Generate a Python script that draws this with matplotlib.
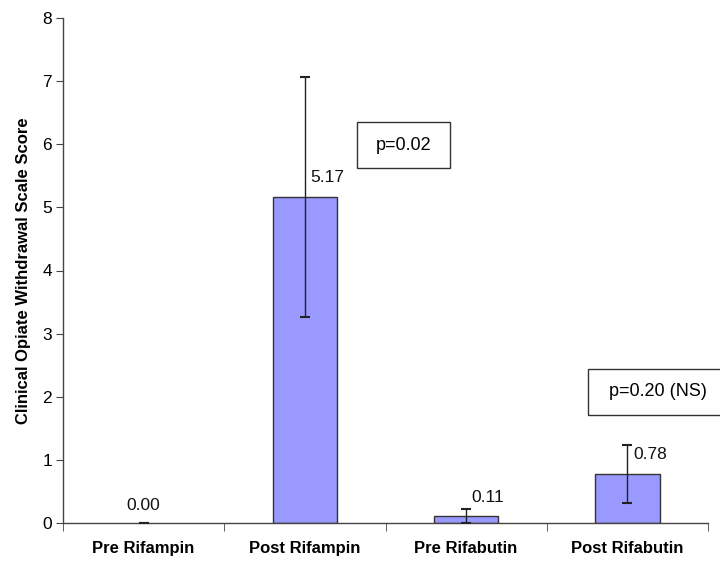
import matplotlib
matplotlib.use('Agg')
import matplotlib.pyplot as plt
from matplotlib.patches import Rectangle
import numpy as np

plt.rcParams['font.family'] = ['Liberation Sans', 'DejaVu Sans']

groups = ['Pre Rifampin', 'Post Rifampin', 'Pre Rifabutin', 'Post Rifabutin']
scores = [0.00, 5.17, 0.11, 0.78]
errs = [0.00, 1.90, 0.11, 0.46]
score_labels = ['0.00', '5.17', '0.11', '0.78']
pvals = ['p=0.02', 'p=0.20 (NS)']

fig = plt.figure(figsize=(7.2, 5.64), dpi=100)
ax = fig.add_axes([63/720., 1 - 523/564., 645/720., 505/564.])

x = np.arange(len(groups))
edges = ['#333333' if v > 0 else 'none' for v in scores]
ax.bar(x, scores, width=0.4, color='#9999ff', edgecolor=edges, linewidth=1, zorder=2)
ax.errorbar(x, scores, yerr=errs, fmt='none', ecolor='#222222', elinewidth=1,
            capsize=3.6, capthick=1.5, zorder=3)

# value labels: centred for the zero bar, right of the whisker otherwise
for i, (v, s) in enumerate(zip(scores, score_labels)):
    if v == 0:
        ax.annotate(s, (x[i], v + 0.28), ha='center', va='center', fontsize=12.5,
                    color='#111111')
    else:
        ax.annotate(s, (x[i], v + 0.3), xytext=(4, 0), textcoords='offset points',
                    ha='left', va='center', fontsize=12.5, color='#111111')

ax.set_xlim(-0.5, 3.5)
ax.set_ylim(0, 8)
ax.set_yticks(range(0, 9))
ax.set_xticks(x)
ax.set_xticklabels(groups, fontweight='bold', fontsize=12)
ax.set_xticks(np.arange(-0.5, 4, 1), minor=True)
ax.tick_params(axis='x', which='major', length=0, pad=13)
ax.tick_params(axis='x', which='minor', length=6, direction='out', color='#444444')
ax.tick_params(axis='y', length=5, direction='out', labelsize=12.5, color='#444444', pad=3)
ax.set_ylabel('Clinical Opiate Withdrawal Scale Score', fontweight='bold', fontsize=12,
              labelpad=8)

for side in ['top', 'right']:
    ax.spines[side].set_visible(False)
for side in ['left', 'bottom']:
    ax.spines[side].set_color('#444444')
    ax.spines[side].set_linewidth(1)

# significance boxes
fig.add_artist(Rectangle((357/720., 1 - 168/564.), 93/720., 46/564., transform=fig.transFigure,
                         fill=False, edgecolor='#333333', linewidth=1))
fig.text(403.5/720., 1 - 145/564., pvals[0], ha='center', va='center', fontsize=13)
fig.add_artist(Rectangle((588/720., 1 - 415/564.), 142/720., 46/564., transform=fig.transFigure,
                         fill=False, edgecolor='#333333', linewidth=1))
fig.text(657.5/720., 1 - 392/564., pvals[1], ha='center', va='center', fontsize=13)

plt.savefig('out.png', dpi=100)
